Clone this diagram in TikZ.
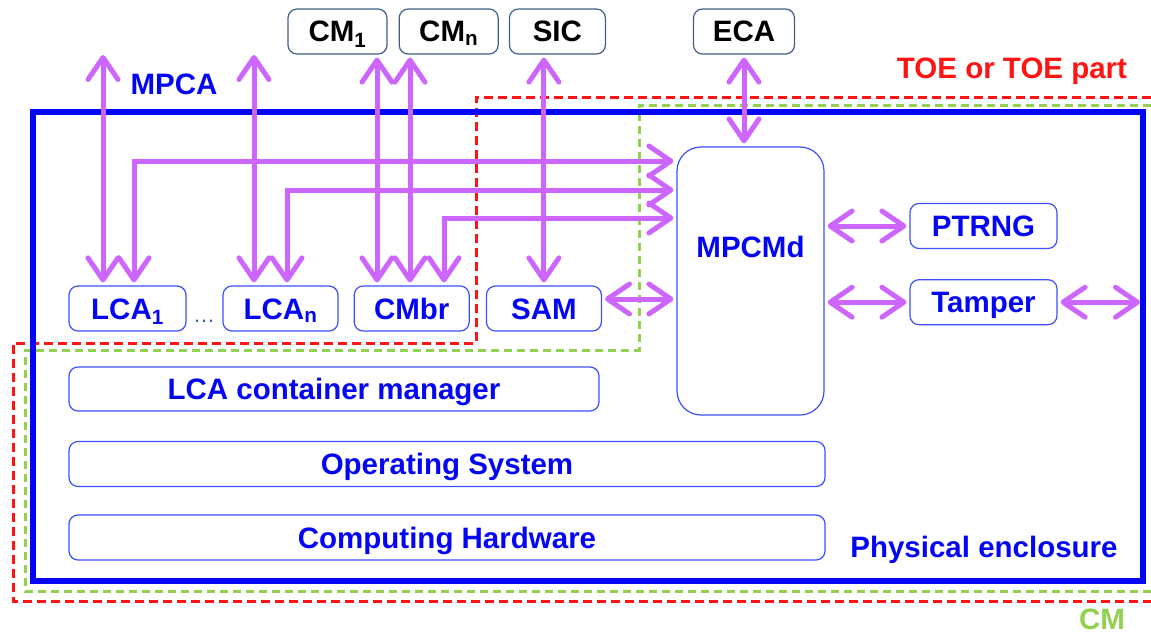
\documentclass[tikz,border=0pt]{standalone}
\usepackage{fontspec}
\setmainfont{Liberation Sans}
\usetikzlibrary{arrows.meta,positioning}

\definecolor{mpblue}{RGB}{5,5,245}
\definecolor{mpframe}{RGB}{60,80,255}
\definecolor{mpviolet}{RGB}{204,102,255}
\definecolor{mpslate}{RGB}{65,95,135}
\definecolor{mpred}{RGB}{255,20,20}
\definecolor{mpgreen}{RGB}{146,208,80}

\begin{document}
\begin{tikzpicture}[x=1pt,y=-1pt,
    font=\fontsize{29.5}{32}\selectfont\bfseries,
    comp/.style={draw=mpframe,line width=1.2pt,rounded corners=9pt,text=mpblue,
      minimum height=45pt,inner sep=0pt,text height=21pt,text depth=0pt},
    ext/.style={draw=mpslate,line width=1.2pt,rounded corners=9pt,
      minimum height=45pt,inner sep=0pt,text height=21pt,text depth=0pt},
    link/.style={draw=mpviolet,line width=5pt,
      {Straight Barb[round,length=22pt,width=30pt]}-{Straight Barb[round,length=22pt,width=30pt]},
      shorten <=3pt,shorten >=3pt},
    toe/.style={draw=mpred,line width=3pt,dash pattern=on 9pt off 5pt},
    cmz/.style={draw=mpgreen,line width=3pt,dash pattern=on 8pt off 5pt},
    encl/.style={draw=mpblue,line width=6pt}]
  \useasboundingbox (0,0) rectangle (1151,634);

  % TOE and CM boundaries, physical enclosure
  \draw[toe] (1151,97) -- (476,97) -- (476,343) -- (13,343) -- (13,601) -- (1151,601);
  \draw[cmz] (1151,105) -- (639,105) -- (639,350) -- (25,350) -- (25,591) -- (1151,591);
  \draw[encl] (33,112) rectangle (1143,581);

  % external parties
  \node[ext,minimum width=99pt] (cm1) at (337.5,31.5) {CM\textsubscript{1}};
  \node[ext,minimum width=99pt,right=11pt of cm1] (cmn) {CM\textsubscript{n}};
  \node[ext,minimum width=96pt,right=10pt of cmn] (sic) {SIC};
  \node[ext,minimum width=101pt] (eca) at (744,31.5) {ECA};

  % inside the enclosure
  \node[comp,minimum width=117pt] (lca1) at (127.5,308.5) {LCA\textsubscript{1}};
  \node[comp,minimum width=115pt] (lcan) at (280.5,308.5) {LCA\textsubscript{n}};
  \node[comp,minimum width=115pt,right=15pt of lcan] (cmbr) {CMbr};
  \node[comp,minimum width=115pt,right=16pt of cmbr] (sam) {SAM};
  \node[text=mpslate,font=\fontsize{22}{24}\selectfont,anchor=base] (dots) at (204,322) {…};
  \node[comp,minimum width=147pt,minimum height=268pt,rounded corners=24pt,
    text height=21pt,text depth=69pt] (mpcmd) at (750.5,281) {MPCMd};
  \node[comp,minimum width=147pt] (ptrng) at (983.5,226) {PTRNG};
  \node[comp,minimum width=147pt,below=30pt of ptrng] (tamper) {Tamper};
  \node[comp,minimum width=530pt,minimum height=44pt] (lcm) at (334,389) {LCA container manager};
  \node[comp,minimum width=756pt] (os) at (447,464) {Operating System};
  \node[comp,minimum width=756pt] (hw) at (447,537.5) {Computing Hardware};

  % labels
  \node[text=mpblue,anchor=base] (mpca) at (174,95) {MPCA};
  \node[text=mpred,anchor=base] (toelbl) at (1012,78) {TOE or TOE part};
  \node[text=mpblue,anchor=base] (phys) at (984,557) {Physical enclosure};
  \node[text=mpgreen,anchor=base,inner sep=0pt] (cmlbl) at (1102,629) {CM};

  % interfaces
  \coordinate (up1) at (103,52);
  \coordinate (up2) at (254,52);
  \coordinate (wall) at (1143,0);
  \draw[link] (up1) -- (up1 |- lca1.north);
  \draw[link] (mpcmd.west |- 0,161) -| (134,0 |- lca1.north);
  \draw[link] (up2) -- (up2 |- lcan.north);
  \draw[link] (mpcmd.west |- 0,190) -| (287,0 |- lcan.north);
  \draw[link] (377,0 |- cm1.south) -- (377,0 |- cmbr.north);
  \draw[link] (410,0 |- cmn.south) -- (410,0 |- cmbr.north);
  \draw[link] (mpcmd.west |- 0,218) -| (444,0 |- cmbr.north);
  \draw[link] (sam.north |- sic.south) -- (sam.north);
  \draw[link] (eca.south) -- (eca.south |- mpcmd.north);
  \draw[link] (sam.east |- 0,299) -- (mpcmd.west |- 0,299);
  \draw[link] (mpcmd.east |- ptrng.west) -- (ptrng.west);
  \draw[link] (mpcmd.east |- tamper.west) -- (tamper.west);
  \draw[link] (tamper.east) -- (wall |- tamper.east);
\end{tikzpicture}
\end{document}
